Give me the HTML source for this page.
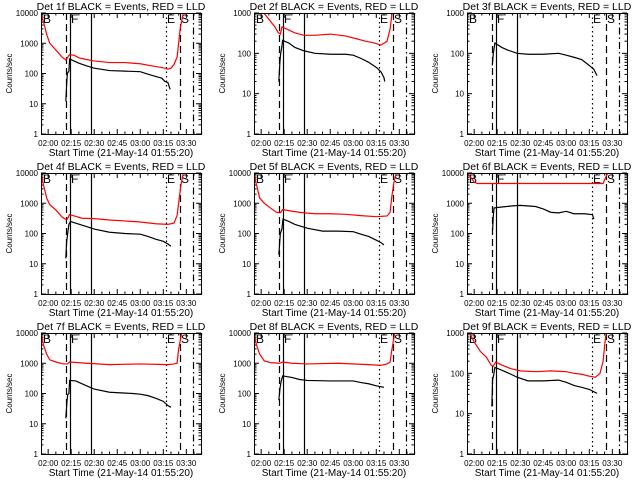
<!DOCTYPE html>
<html><head><meta charset="utf-8"><style>
html,body{margin:0;padding:0;background:#fff;}
svg{display:block;font-family:"Liberation Sans",sans-serif;}
</style></head><body>
<svg id="chart" width="640" height="480" viewBox="0 0 640 480" xmlns="http://www.w3.org/2000/svg"></svg>
<script>
// time values = minutes after 02:00; axis starts at 01:55:20
const xTickLabels = ["02:00","02:15","02:30","02:45","03:00","03:15","03:30"];
const xTickTimes = [0,15,30,45,60,75,90];
const markerTimes = [11.6,14.0,27.9,76.6,85.9,94.4];
const markerStyles = ["dashed","solid","solid","dotted","dashed","dashdot"];
const detNames = ["1f","2f","3f","4f","5f","6f","7f","8f","9f"];
const yMaxExp = [4,3,3,4,4,4,4,4,3];

const red1t=[-4.67,-3,-1,1,5,9,11.5,12,13.9,17,20,25,30,40,50,60,70,73,76,78,80,82,84,85,86,88];
const red1v=[10000,5000,2000,1000,600,350,280,300,420,400,330,290,260,230,230,210,170,160,150,140,150,200,350,1000,3000,10000];
const blk1t=[11.5,12,12.5,13.5,14,16,20,25,30,40,50,60,65,70,74,76,78,79,79.5];
const blk1v=[12,40,100,120,300,270,220,180,150,125,120,115,95,80,70,55,50,35,30];

const red2t=[-4.67,1.8,5,9,11,12.5,13.5,18,22,28,35,45,55,62,68,74,78,82,84,85,86];
const red2v=[2000,1000,700,450,330,300,450,380,320,280,280,300,270,230,200,180,160,200,400,800,2000];
const blk2t=[11.5,12.2,12.7,13.3,14,18,22,28,35,45,55,60,65,70,75,78,80,80.5];
const blk2v=[20,60,100,130,210,180,140,115,100,95,95,90,75,60,45,35,25,20];

const red3t=[];
const red3v=[];
const blk3t=[11.8,12.5,13.5,18,22,28,35,45,55,60,65,70,75,78,80];
const blk3v=[50,100,180,140,120,100,95,95,100,90,80,70,50,40,28];

const red4t=[-4.67,-3,-1,1,5,9,11.5,12.5,13.9,17,22,30,40,50,60,70,78,82,84,85,86.5,88];
const red4v=[10000,4000,1500,900,600,350,290,300,420,380,320,310,280,260,240,210,200,220,400,1000,4000,10000];
const blk4t=[11.5,12,12.7,13.5,14.5,18,25,30,40,50,60,65,70,75,78,80];
const blk4v=[15,50,100,200,250,220,170,140,110,100,95,80,65,55,45,38];

const red5t=[-4.67,-3,-1,2,6,10,12.5,14,18,25,35,45,55,65,75,82,84,85,86.5,88];
const red5v=[10000,4000,1500,1000,700,500,480,620,570,500,450,450,430,390,360,380,500,1500,5000,10000];
const blk5t=[11.5,12.5,13.5,14.2,18,22,30,40,50,60,65,70,75,78,80];
const blk5v=[20,100,140,300,250,200,150,120,120,115,95,80,60,50,42];

const red6t=[-4.67,-2,0,2,84,85,87];
const red6v=[10000,7000,5000,4500,4500,6000,10000];
const blk6t=[12,12.5,13,18,25,30,40,45,50,55,60,65,72,77,78];
const blk6v=[130,400,700,750,820,850,780,650,500,480,540,450,450,420,300];

const red7t=[-4.67,-3,-1,1,5,10,12.5,14,25,40,60,78,82,84,85,87];
const red7v=[10000,4000,2000,1300,1100,950,950,1100,1000,900,950,900,950,1000,3000,10000];
const blk7t=[11.5,12.2,12.7,13.5,14,18,25,30,40,55,60,65,70,75,78,80];
const blk7v=[15,50,90,100,270,260,180,140,110,100,95,85,70,55,40,35];

const red8t=[-4.67,-3,-1,2,6,12,14,20,30,50,70,78,82,84,85,87];
const red8v=[10000,4000,2000,1200,1050,1000,1100,1000,950,1000,900,850,950,1100,2500,10000];
const blk8t=[11.5,12.3,13,14,20,25,30,45,60,65,70,75,80];
const blk8v=[60,150,250,380,340,290,270,260,260,230,210,180,160];

const red9t=[-3,0,4,8,11,12.5,14,18,24,30,40,50,60,65,70,75,79,82,84,85,86];
const red9v=[1000,600,350,250,160,150,190,160,130,115,110,115,110,100,95,85,80,100,200,500,1000];
const blk9t=[11.5,12,12.7,13.5,18,24,28,35,45,55,60,65,70,75,78,80];
const blk9v=[15,70,90,140,120,95,80,65,65,68,60,50,45,40,35,32];

const redT=[red1t,red2t,red3t,red4t,red5t,red6t,red7t,red8t,red9t];
const redV=[red1v,red2v,red3v,red4v,red5v,red6v,red7v,red8v,red9v];
const blkT=[blk1t,blk2t,blk3t,blk4t,blk5t,blk6t,blk7t,blk8t,blk9t];
const blkV=[blk1v,blk2v,blk3v,blk4v,blk5v,blk6v,blk7v,blk8v,blk9v];

const NS="http://www.w3.org/2000/svg";
const svg=document.getElementById('chart');
function mk(tag,attrs,parent){const e=document.createElementNS(NS,tag);for(const k in attrs)e.setAttribute(k,attrs[k]);(parent||svg).appendChild(e);return e;}
const W=160,H=121,PPM=1.535,T0=-4.667;

for(let p=0;p<9;p++){
  const c=p%3,r=Math.floor(p/3);
  const x0=41+c*213,y0=13+r*160,x1=x0+W,y1=y0+H;
  const ex=yMaxExp[p];
  const xs=t=>x0+(t-T0)*PPM;
  const ys=v=>y1-Math.log10(Math.max(v,1e-3))/ex*H;
  const g=mk('g',{});
  
  
  const clipId='clip'+p;
  const cp=mk('clipPath',{id:clipId},g);mk('rect',{x:x0,y:y0,width:W,height:H},cp);

  const title=mk('text',{x:x0+W/2,y:y0-3,'text-anchor':'middle','font-size':10.5},g);
  title.textContent='Det '+detNames[p]+' BLACK = Events, RED = LLD';
  
  

  for(let e=0;e<=ex;e++){
    const y=ys(Math.pow(10,e));
    mk('line',{x1:x0,y1:y,x2:x0+5,y2:y,stroke:'#000'},g);
    mk('line',{x1:x1,y1:y,x2:x1-5,y2:y,stroke:'#000'},g);
    const lb=mk('text',{x:x0-3,y:y+3,'text-anchor':'end','font-size':8},g);
    lb.textContent=String(Math.pow(10,e));
    
    
    if(e<ex)for(let m=2;m<10;m++){const ym=ys(m*Math.pow(10,e));
      mk('line',{x1:x0,y1:ym,x2:x0+2.5,y2:ym,stroke:'#000'},g);
      mk('line',{x1:x1,y1:ym,x2:x1-2.5,y2:ym,stroke:'#000'},g);}
  }
  for(let t=0;t<=100;t+=5){const x=xs(t);const L=(t%15===0)?5:2.5;
    mk('line',{x1:x,y1:y1,x2:x,y2:y1-L,stroke:'#000'},g);
    mk('line',{x1:x,y1:y0,x2:x,y2:y0+L,stroke:'#000'},g);}
  for(let i=0;i<xTickLabels.length;i++){
    const lb=mk('text',{x:xs(xTickTimes[i]),y:y1+12,'text-anchor':'middle','font-size':8},g);
    lb.textContent=xTickLabels[i];
    
    
  }
  const xt=mk('text',{x:x0+W/2,y:y1+22,'text-anchor':'middle','font-size':10},g);
  xt.textContent='Start Time (21-May-14 01:55:20)';
  
  
  const yt=mk('text',{x:0,y:0,'text-anchor':'middle','font-size':8,transform:'translate('+(x0-29)+','+(y0+H/2)+') rotate(-90)'},g);
  yt.textContent='Counts/sec';
  
  

  const dash={solid:'',dashed:'7,4',dotted:'1.5,3',dashdot:'7,3,1.5,3'};
  for(let i=0;i<markerTimes.length;i++){
    const x=Math.round(xs(markerTimes[i]))+0.5;
    const ln=mk('line',{x1:x,y1:y0,x2:x,y2:y1,stroke:'#000','stroke-width':1.2},g);
    if(dash[markerStyles[i]])ln.setAttribute('stroke-dasharray',dash[markerStyles[i]]);
    
    
  }
  const letters=[['B',x0+2],['F',Math.round(xs(markerTimes[1]))+1],['E',Math.round(xs(markerTimes[3]))+1],['S',Math.round(xs(markerTimes[4]))+1]];
  for(const [ch,lx] of letters){
    const t=mk('text',{x:lx,y:y0+10,'font-size':12},g);t.textContent=ch;
    
    
  }
  const cg=mk('g',{'clip-path':'url(#'+clipId+')'},g);
  if(redT[p].length){
    const pl=mk('polyline',{points:redT[p].map((t,i)=>xs(t)+','+ys(redV[p][i])).join(' '),fill:'none',stroke:'#f00','stroke-width':1.2},cg);
    
    
  }
  const bl=mk('polyline',{points:blkT[p].map((t,i)=>xs(t)+','+ys(blkV[p][i])).join(' '),fill:'none',stroke:'#000','stroke-width':1.2},cg);
  
  
  const box=mk('rect',{x:x0+0.5,y:y0+0.5,width:W,height:H,fill:'none',stroke:'#000'},g);
  
  
}
</script>
</body></html>
